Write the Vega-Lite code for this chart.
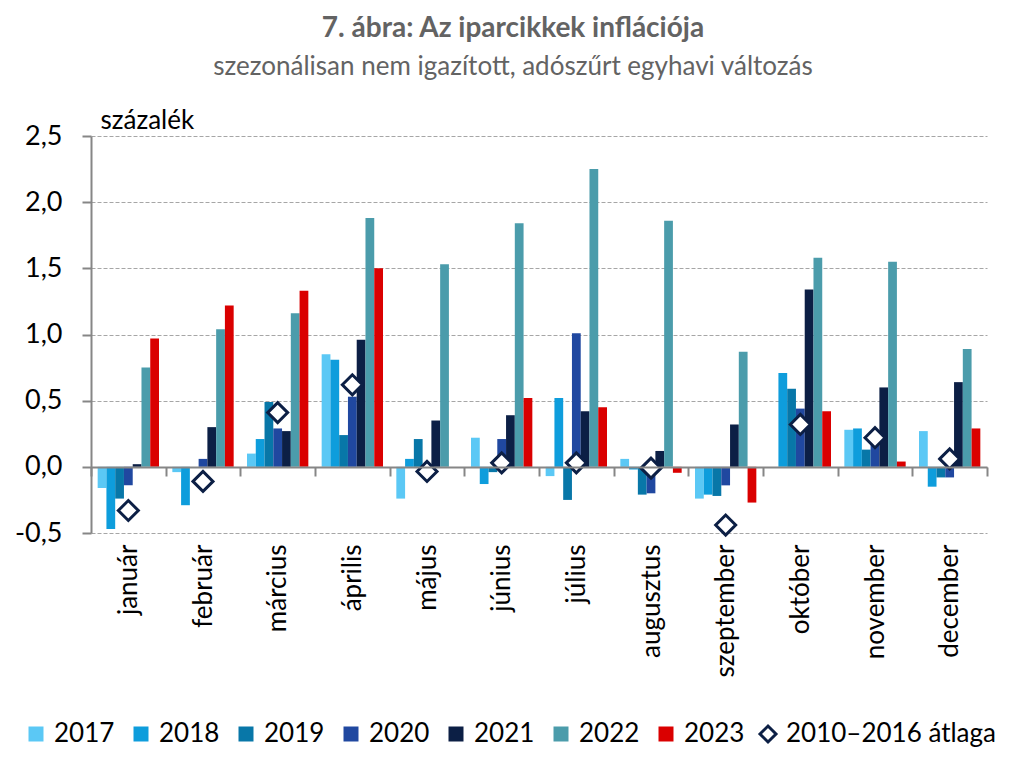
{
  "$schema": "https://vega.github.io/schema/vega-lite/v6.json",
  "autosize": {"type": "none"},
  "width": 896,
  "height": 397,
  "padding": {"left": 91, "top": 136, "right": 43, "bottom": 243},
  "config": {
    "font": "Lato",
    "view": {"stroke": null},
    "axis": {"labelFont": "Lato", "titleFont": "Lato"},
    "legend": {"labelFont": "Lato"}
  },
  "title": {
    "text": "7. ábra: Az iparcikkek inflációja",
    "subtitle": "szezonálisan nem igazított, adószűrt egyhavi változás",
    "fontSize": 28,
    "fontWeight": "bold",
    "color": "#636363",
    "subtitleFontSize": 26,
    "subtitleColor": "#636363",
    "subtitleFont": "Lato",
    "subtitlePadding": 11,
    "anchor": "middle",
    "frame": "group",
    "dx": -26,
    "offset": 27
  },
  "datasets": {
    "bars": [
      {"month": "január", "year": "2017", "value": -0.16},
      {"month": "január", "year": "2018", "value": -0.47},
      {"month": "január", "year": "2019", "value": -0.24},
      {"month": "január", "year": "2020", "value": -0.14},
      {"month": "január", "year": "2021", "value": 0.02},
      {"month": "január", "year": "2022", "value": 0.75},
      {"month": "január", "year": "2023", "value": 0.97},
      {"month": "február", "year": "2017", "value": -0.04},
      {"month": "február", "year": "2018", "value": -0.29},
      {"month": "február", "year": "2019", "value": 0},
      {"month": "február", "year": "2020", "value": 0.06},
      {"month": "február", "year": "2021", "value": 0.30},
      {"month": "február", "year": "2022", "value": 1.04},
      {"month": "február", "year": "2023", "value": 1.22},
      {"month": "március", "year": "2017", "value": 0.10},
      {"month": "március", "year": "2018", "value": 0.21},
      {"month": "március", "year": "2019", "value": 0.49},
      {"month": "március", "year": "2020", "value": 0.29},
      {"month": "március", "year": "2021", "value": 0.27},
      {"month": "március", "year": "2022", "value": 1.16},
      {"month": "március", "year": "2023", "value": 1.33},
      {"month": "április", "year": "2017", "value": 0.85},
      {"month": "április", "year": "2018", "value": 0.81},
      {"month": "április", "year": "2019", "value": 0.24},
      {"month": "április", "year": "2020", "value": 0.53},
      {"month": "április", "year": "2021", "value": 0.96},
      {"month": "április", "year": "2022", "value": 1.88},
      {"month": "április", "year": "2023", "value": 1.50},
      {"month": "május", "year": "2017", "value": -0.24},
      {"month": "május", "year": "2018", "value": 0.06},
      {"month": "május", "year": "2019", "value": 0.21},
      {"month": "május", "year": "2020", "value": -0.05},
      {"month": "május", "year": "2021", "value": 0.35},
      {"month": "május", "year": "2022", "value": 1.53},
      {"month": "május", "year": "2023", "value": 0},
      {"month": "június", "year": "2017", "value": 0.22},
      {"month": "június", "year": "2018", "value": -0.13},
      {"month": "június", "year": "2019", "value": -0.04},
      {"month": "június", "year": "2020", "value": 0.21},
      {"month": "június", "year": "2021", "value": 0.39},
      {"month": "június", "year": "2022", "value": 1.84},
      {"month": "június", "year": "2023", "value": 0.52},
      {"month": "július", "year": "2017", "value": -0.07},
      {"month": "július", "year": "2018", "value": 0.52},
      {"month": "július", "year": "2019", "value": -0.25},
      {"month": "július", "year": "2020", "value": 1.01},
      {"month": "július", "year": "2021", "value": 0.42},
      {"month": "július", "year": "2022", "value": 2.25},
      {"month": "július", "year": "2023", "value": 0.45},
      {"month": "augusztus", "year": "2017", "value": 0.06},
      {"month": "augusztus", "year": "2018", "value": -0.02},
      {"month": "augusztus", "year": "2019", "value": -0.21},
      {"month": "augusztus", "year": "2020", "value": -0.20},
      {"month": "augusztus", "year": "2021", "value": 0.12},
      {"month": "augusztus", "year": "2022", "value": 1.86},
      {"month": "augusztus", "year": "2023", "value": -0.045},
      {"month": "szeptember", "year": "2017", "value": -0.24},
      {"month": "szeptember", "year": "2018", "value": -0.21},
      {"month": "szeptember", "year": "2019", "value": -0.22},
      {"month": "szeptember", "year": "2020", "value": -0.14},
      {"month": "szeptember", "year": "2021", "value": 0.32},
      {"month": "szeptember", "year": "2022", "value": 0.87},
      {"month": "szeptember", "year": "2023", "value": -0.27},
      {"month": "október", "year": "2017", "value": 0},
      {"month": "október", "year": "2018", "value": 0.71},
      {"month": "október", "year": "2019", "value": 0.59},
      {"month": "október", "year": "2020", "value": 0.44},
      {"month": "október", "year": "2021", "value": 1.34},
      {"month": "október", "year": "2022", "value": 1.58},
      {"month": "október", "year": "2023", "value": 0.42},
      {"month": "november", "year": "2017", "value": 0.28},
      {"month": "november", "year": "2018", "value": 0.29},
      {"month": "november", "year": "2019", "value": 0.13},
      {"month": "november", "year": "2020", "value": 0.17},
      {"month": "november", "year": "2021", "value": 0.60},
      {"month": "november", "year": "2022", "value": 1.55},
      {"month": "november", "year": "2023", "value": 0.04},
      {"month": "december", "year": "2017", "value": 0.27},
      {"month": "december", "year": "2018", "value": -0.15},
      {"month": "december", "year": "2019", "value": -0.08},
      {"month": "december", "year": "2020", "value": -0.08},
      {"month": "december", "year": "2021", "value": 0.64},
      {"month": "december", "year": "2022", "value": 0.89},
      {"month": "december", "year": "2023", "value": 0.29}
    ],
    "avg": [
      {"month": "január", "series": "2010–2016 átlaga", "value": -0.33},
      {"month": "február", "series": "2010–2016 átlaga", "value": -0.11},
      {"month": "március", "series": "2010–2016 átlaga", "value": 0.41},
      {"month": "április", "series": "2010–2016 átlaga", "value": 0.62},
      {"month": "május", "series": "2010–2016 átlaga", "value": -0.035},
      {"month": "június", "series": "2010–2016 átlaga", "value": 0.03},
      {"month": "július", "series": "2010–2016 átlaga", "value": 0.03},
      {"month": "augusztus", "series": "2010–2016 átlaga", "value": -0.01},
      {"month": "szeptember", "series": "2010–2016 átlaga", "value": -0.44},
      {"month": "október", "series": "2010–2016 átlaga", "value": 0.32},
      {"month": "november", "series": "2010–2016 átlaga", "value": 0.22},
      {"month": "december", "series": "2010–2016 átlaga", "value": 0.06}
    ]
  },
  "encoding": {
    "x": {
      "field": "month",
      "type": "nominal",
      "sort": ["január", "február", "március", "április", "május", "június", "július", "augusztus", "szeptember", "október", "november", "december"],
      "scale": {"paddingInner": 0, "paddingOuter": 0},
      "axis": {
        "title": null,
        "orient": "bottom",
        "offset": -66,
        "domainColor": "#868686",
        "domainWidth": 2,
        "tickColor": "#868686",
        "tickWidth": 2,
        "tickSize": 9,
        "bandPosition": 0,
        "tickBand": "extent",
        "labelAngle": -90,
        "labelAlign": "right",
        "labelBaseline": "middle",
        "labelPadding": 68,
        "labelFontSize": 26,
        "labelColor": "#000000",
        "labelOverlap": false,
        "labelFlush": false,
        "zindex": 1
      }
    },
    "y": {
      "field": "value",
      "type": "quantitative",
      "scale": {"domain": [-0.5, 2.5], "nice": false, "zero": false},
      "axis": {
        "values": [-0.5, 0, 0.5, 1, 1.5, 2, 2.5],
        "labelExpr": "replace(replace(format(datum.value, '.1f'), '.', ','), '\u2212', '-')",
        "title": "százalék",
        "titleAngle": 0,
        "titleAlign": "left",
        "titleBaseline": "alphabetic",
        "titleX": 9,
        "titleY": -8,
        "titleFontSize": 26,
        "titleFontWeight": "normal",
        "titleColor": "#000000",
        "labelFontSize": 27,
        "labelColor": "#000000",
        "labelPadding": 20,
        "tickSize": 9,
        "tickColor": "#868686",
        "tickWidth": 2,
        "domainColor": "#868686",
        "domainWidth": 2,
        "grid": true,
        "gridColor": "#A6A6A6",
        "gridDash": [4, 2],
        "gridWidth": 1
      }
    }
  },
  "layer": [
    {
      "data": {"name": "bars"},
      "mark": {"type": "bar"},
      "encoding": {
        "xOffset": {
          "field": "year",
          "type": "nominal",
          "scale": {"paddingInner": 0, "paddingOuter": 0.76}
        },
        "color": {
          "field": "year",
          "type": "nominal",
          "scale": {
            "domain": ["2017", "2018", "2019", "2020", "2021", "2022", "2023"],
            "range": ["#5BC8F5", "#0E9DDC", "#0877A8", "#2048A0", "#0C1F45", "#4B9CAB", "#DA0000"]
          },
          "legend": {
            "title": null,
            "orient": "none",
            "legendX": -68,
            "legendY": 585,
            "direction": "horizontal",
            "columns": 7,
            "symbolType": "square",
            "symbolSize": 225,
            "symbolStrokeWidth": 0,
            "labelFontSize": 26,
            "labelColor": "#000000",
            "labelOffset": 5,
            "labelLimit": 300,
            "columnPadding": 13
          }
        }
      }
    },
    {
      "data": {"name": "avg"},
      "mark": {"type": "point", "shape": "diamond", "filled": false, "fill": "#ffffff", "fillOpacity": 1, "strokeWidth": 3, "size": 400, "opacity": 1},
      "encoding": {
        "stroke": {
          "field": "series",
          "type": "nominal",
          "scale": {"domain": ["2010–2016 átlaga"], "range": ["#0C1F45"]},
          "legend": {
            "title": null,
            "orient": "none",
            "legendX": 664,
            "legendY": 585,
            "symbolType": "diamond",
            "symbolSize": 256,
            "symbolFillColor": "#ffffff",
            "symbolStrokeWidth": 3,
            "labelFontSize": 26,
            "labelColor": "#000000",
            "labelOffset": 5,
            "labelLimit": 400
          }
        }
      }
    }
  ]
}
